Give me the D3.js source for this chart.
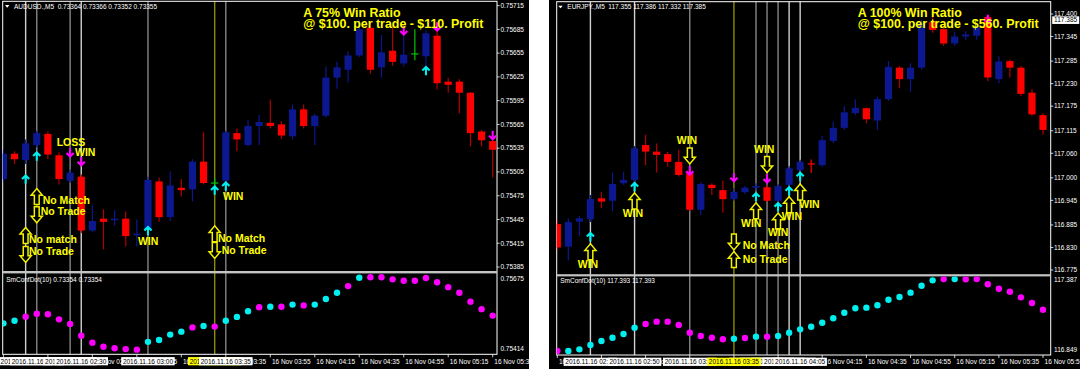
<!DOCTYPE html>
<html lang="en">
<head>
<meta charset="utf-8">
<title>Win ratio charts</title>
<script src="https://d3js.org/d3.v7.min.js"></script>
<style>
  body { margin: 0; background: #fff; }
  svg text { font-family: "Liberation Sans", Arial, sans-serif; }
  .small { font-size: 6.5px; fill: #fff; }
  .note { font-size: 10.5px; font-weight: bold; fill: #ffff00; }
  .title { font-size: 12.4px; font-weight: bold; fill: #ffff00; }
</style>
</head>
<body>
<svg id="chart" width="1080" height="369"></svg>
<script>

// ---------- AUDUSD (left) ----------
// [open, high, low, close]
var audCandles = [
  [0.75496,0.75533,0.75492,0.75528],[0.75528,0.75531,0.75515,0.75521],[0.75520,0.75546,0.75515,0.75541],
  [0.75539,0.75557,0.75536,0.75554],[0.75553,0.75556,0.75521,0.75527],[0.75526,0.75530,0.75489,0.75496],
  [0.75494,0.75508,0.75491,0.75504],[0.75499,0.75502,0.75428,0.75431],[0.75431,0.75463,0.75429,0.75443],
  [0.75446,0.75458,0.75407,0.75442],[0.75444,0.75457,0.75437,0.75446],[0.75446,0.75455,0.75411,0.75424],
  [0.75425,0.75445,0.75411,0.75427],[0.75432,0.75499,0.75430,0.75495],[0.75493,0.75498,0.75442,0.75448],
  [0.75448,0.75506,0.75443,0.75488],[0.75485,0.75496,0.75474,0.75482],[0.75483,0.75521,0.75468,0.75518],
  [0.75518,0.75555,0.75489,0.75491],[0.75491,0.75497,0.75485,0.75491],[0.75494,0.75557,0.75491,0.75555],
  [0.75554,0.75560,0.75531,0.75546],[0.75539,0.75571,0.75537,0.75563],[0.75563,0.75577,0.75539,0.75568],
  [0.75567,0.75596,0.75560,0.75563],[0.75565,0.75569,0.75547,0.75551],[0.75550,0.75590,0.75546,0.75584],
  [0.75584,0.75590,0.75560,0.75563],[0.75563,0.75578,0.75539,0.75576],[0.75576,0.75638,0.75574,0.75624],
  [0.75624,0.75644,0.75610,0.75637],[0.75634,0.75657,0.75618,0.75652],[0.75652,0.75697,0.75650,0.75685],
  [0.75687,0.75694,0.75629,0.75634],[0.75637,0.75678,0.75624,0.75656],[0.75658,0.75689,0.75639,0.75644],
  [0.75642,0.75678,0.75638,0.75653],[0.75654,0.75685,0.75646,0.75654],[0.75651,0.75684,0.75638,0.75680],
  [0.75677,0.75687,0.75609,0.75617],[0.75619,0.75624,0.75605,0.75615],[0.75619,0.75622,0.75579,0.75605],
  [0.75605,0.75606,0.75537,0.75554],[0.75556,0.75558,0.75537,0.75545],[0.75544,0.75546,0.75498,0.75533]
];
var audDots = [0.75507,0.75517,0.75532,0.75543,0.75541,0.75522,0.75505,0.75461,0.75435,0.75420,
  0.75414,0.75411,0.75409,0.75438,0.75445,0.75465,0.75476,0.75492,0.75497,0.75495,
  0.75517,0.75531,0.75552,0.75567,0.75569,0.75569,0.75577,0.75574,0.75577,0.75598,
  0.75621,0.75646,0.75677,0.75679,0.75679,0.75671,0.75666,0.75666,0.75676,0.75660,
  0.75642,0.75621,0.75588,0.75560,0.75536];
var audDotUp = [1,1,0,0,0,0,0,0,0,0,0,0,0,1,1,1,1,0,1,0,1,1,1,0,1,0,1,0,1,1,1,0,1,0,0,0,0,0,0,0,0,0,0,0,0];
var audPriceTicks = [0.75715,0.75685,0.75655,0.75625,0.75595,0.75565,0.75535,0.75505,0.75475,0.75445,0.75415,0.75385];
var audSubTicks = [0.75675,0.75414];
var audTimeTicks = [[0,"16 Nov 01:55"],[4,"16 Nov 02:15"],[8,"16 Nov 02:35"],[12,"16 Nov 02:55"],
  [16,"16 Nov 03:15"],[20,"16 Nov 03:35"],[24,"16 Nov 03:55"],[28,"16 Nov 04:15"],[32,"16 Nov 04:35"],
  [36,"16 Nov 04:55"],[40,"16 Nov 05:15"],[44,"16 Nov 05:35"]];
var audLines = [{bar:2,kind:"silver",label:"2016.11.16 02:05"},{bar:3,kind:"gray",label:"2016.11.16 02:10"},
  {bar:6,kind:"gray",label:"2016.11.16 02:25"},{bar:7,kind:"silver",label:"2016.11.16 02:30"},
  {bar:13,kind:"gray",label:"2016.11.16 03:00"},{bar:19,kind:"olive",label:"2016.11.16 03:30"},
  {bar:20,kind:"gray",label:"2016.11.16 03:35"}];
var audUpArrows = [[2,0.75501],[3,0.75530],[13,0.75436],[19,0.75487],[20,0.75492],[38,0.75638]];
var audDownArrows = [[6,0.75524],[7,0.75513],[36,0.75678],[39,0.75683],[44,0.75546]];
var audHollow = [[3,0.75484,"up"],[3,0.75461,"down"],[2,0.75435,"up"],[2,0.75411,"down"],[19,0.75437,"up"],[19,0.75416,"down"]];
var audNotes = [[4.79,0.75538,"LOSS"],[6.44,0.75525,"WIN"],[12.1,0.75413,"WIN"],[19.75,0.75469,"WIN"],
  [3.53,0.75464,"No Match"],[3.35,0.75451,"No Trade"],[2.3,0.75415,"No match"],[2.3,0.75400,"No Trade"],
  [19.3,0.75416,"No Match"],[19.63,0.75402,"No Trade"]];
var audTitle = ["A 75% Win Ratio","@ $100. per trade - $110. Profit"];
var audHeader = "AUDUSD.,M5  0.73364 0.73366 0.73352 0.73355";
var audSubHeader = "SmConfDot(10) 0.73354 0.73354";

// ---------- EURJPY (right) ----------
var eurCandles = [
  [116.887,116.897,116.824,116.830],[116.832,116.901,116.798,116.892],[116.893,116.907,116.858,116.901],
  [116.899,116.958,116.892,116.948],[116.950,116.966,116.926,116.942],[116.944,117.013,116.919,116.985],
  [116.987,117.015,116.983,116.995],[116.995,117.078,116.990,117.072],[117.080,117.105,117.031,117.064],
  [117.064,117.084,117.013,117.056],[117.058,117.063,117.027,117.039],[117.039,117.068,117.003,117.007],
  [117.011,117.021,116.919,116.922],[116.922,116.990,116.909,116.985],[116.983,116.987,116.958,116.975],
  [116.970,116.993,116.915,116.948],[116.948,116.975,116.944,116.966],[116.965,116.980,116.960,116.976],
  [116.976,116.987,116.970,116.980],[116.977,116.983,116.942,116.944],[116.944,116.985,116.922,116.980],
  [116.983,117.029,116.958,117.023],[117.019,117.044,117.011,117.039],[117.034,117.045,117.012,117.034],
  [117.031,117.102,117.027,117.092],[117.090,117.137,117.085,117.122],[117.122,117.175,117.117,117.160],
  [117.158,117.192,117.153,117.171],[117.170,117.172,117.133,117.143],[117.140,117.198,117.117,117.192],
  [117.192,117.285,117.188,117.271],[117.269,117.273,117.219,117.241],[117.241,117.280,117.210,117.269],
  [117.269,117.385,117.264,117.377],[117.380,117.395,117.354,117.361],[117.363,117.371,117.322,117.328],
  [117.328,117.357,117.322,117.345],[117.345,117.357,117.337,117.350],[117.347,117.375,117.337,117.369],
  [117.393,117.398,117.236,117.245],[117.241,117.297,117.231,117.284],[117.285,117.289,117.245,117.269],
  [117.269,117.273,117.200,117.205],[117.208,117.216,117.151,117.155],[117.153,117.158,117.105,117.117]
];
var eurDots = [116.841,116.841,116.854,116.887,116.918,116.943,116.971,117.020,117.048,117.066,
  117.066,117.040,116.981,116.956,116.943,116.931,116.935,116.941,116.951,116.951,
  116.956,116.981,117.007,117.027,117.058,117.092,117.134,117.168,117.173,117.191,
  117.234,117.255,117.288,117.341,117.382,117.392,117.392,117.390,117.392,117.352,
  117.318,117.295,117.252,117.209,117.157];
var eurDotUp = [0,1,1,1,1,1,1,1,0,0,0,0,0,0,0,0,1,0,1,0,1,1,1,1,1,1,1,1,1,1,1,1,1,1,1,0,1,0,0,0,0,0,0,0,0];
var eurPriceTicks = [117.400,117.345,117.285,117.230,117.175,117.115,117.060,117.000,116.945,116.885,116.830,116.775];
var eurSubTicks = [117.387,116.849];
var eurTimeTicks = [[0,"16 Nov 02:15"],[4,"16 Nov 02:35"],[8,"16 Nov 02:55"],[12,"16 Nov 03:15"],
  [16,"16 Nov 03:35"],[20,"16 Nov 03:55"],[24,"16 Nov 04:15"],[28,"16 Nov 04:35"],[32,"16 Nov 04:55"],
  [36,"16 Nov 05:15"],[40,"16 Nov 05:35"],[44,"16 Nov 05:55"]];
var eurLines = [{bar:3,kind:"silver",label:"2016.11.16 02:30"},{bar:7,kind:"silver",label:"2016.11.16 02:50"},
  {bar:12,kind:"gray",label:"2016.11.16 03:15"},{bar:18,kind:"gray",label:"2016.11.16 03:45"},
  {bar:19,kind:"gray",label:"2016.11.16 03:50"},{bar:20,kind:"gray",label:"2016.11.16 03:55"},
  {bar:21,kind:"silver",label:"2016.11.16 04:00"},{bar:22,kind:"silver",label:"2016.11.16 04:05"},
  {bar:16,kind:"olive",label:"2016.11.16 03:35"}];
var eurUpArrows = [[3,116.866],[7,116.988],[18,116.963],[20,116.939],[21,116.978],[22,117.013]];
var eurDownArrows = [[12,117.007],[16,116.991],[19,116.988],[39,117.377]];
var eurHollow = [[12,117.073,"down"],[7,116.963,"up"],[3,116.839,"up"],[16,116.863,"down"],[16,116.820,"up"],
  [18,116.939,"up"],[19,117.052,"down"],[20,116.914,"up"],[21,116.954,"up"],[22,116.985,"up"]];
var eurNotes = [[10.82,117.083,"WIN"],[5.92,116.904,"WIN"],[1.85,116.779,"WIN"],[16.79,116.826,"No Match"],
  [16.79,116.793,"No Trade"],[16.64,116.881,"WIN"],[17.82,117.060,"WIN"],[19.08,116.858,"WIN"],
  [20.33,116.897,"WIN"],[21.92,116.926,"WIN"]];
var eurTitle = ["A 100% Win Ratio","@ $100. per trade - $560. Profit"];
var eurHeader = "EURJPY.,M5  117.355 117.386 117.332 117.385";
var eurSubHeader = "SmConfDot(10) 117.393 117.393";
var eurLast = 117.385;

// ---------- drawing ----------
var H = 369;
var svg = d3.select("#chart");
var lineColor = {silver: "#d0d0d0", gray: "#858585", olive: "#8c8c00"};
var bull = "#0c1890", bear = "#ff0000", bearWick = "#b00000";

var panels = [
  {id:"aud", left:0, right:529, frameL:2.7, frameR:497, top:1.3, mainBottom:271, subTop:273.4, subBottom:354.3,
   barRange:[3.4,492.7], priceRange:[267,5.6], subRange:[348.3,278.3], timeY:363.7,
   candles:audCandles, dots:audDots, dotUp:audDotUp, priceTicks:audPriceTicks, subTicks:audSubTicks,
   timeTicks:audTimeTicks, vlines:audLines, ups:audUpArrows, downs:audDownArrows, hollow:audHollow,
   notes:audNotes, title:audTitle, titleX:303.3, titleY:[17.3,28.3], header:audHeader, headerX:14, headerY:8.7,
   subHeader:audSubHeader, subHeaderY:281.7, doji:"#00c800", last:null},
  {id:"eur", left:549, right:1080, frameL:556.7, frameR:1050.7, top:1.7, mainBottom:274.2, subTop:276.4, subBottom:355,
   barRange:[557.3,1043], priceRange:[270,14], subRange:[350,279.7], timeY:364.3,
   candles:eurCandles, dots:eurDots, dotUp:eurDotUp, priceTicks:eurPriceTicks, subTicks:eurSubTicks,
   timeTicks:eurTimeTicks, vlines:eurLines, ups:eurUpArrows, downs:eurDownArrows, hollow:eurHollow,
   notes:eurNotes, title:eurTitle, titleX:857.8, titleY:[16.7,28.3], header:eurHeader, headerX:567.3, headerY:9.3,
   subHeader:eurSubHeader, subHeaderY:283, doji:"#ff0000", last:eurLast}
];

panels.forEach(function(p) {
  var n = p.candles.length;
  var x = d3.scaleLinear().domain([0, n - 1]).range(p.barRange);
  var y = d3.scaleLinear().domain([p.priceTicks[p.priceTicks.length - 1], p.priceTicks[0]]).range(p.priceRange);
  var ys = d3.scaleLinear().domain([p.subTicks[1], p.subTicks[0]]).range(p.subRange);

  var defs = svg.append("defs");
  defs.append("clipPath").attr("id", p.id + "-all").append("rect")
      .attr("x", p.left).attr("y", 0).attr("width", p.right - p.left).attr("height", H);
  defs.append("clipPath").attr("id", p.id + "-main").append("rect")
      .attr("x", p.frameL).attr("y", p.top).attr("width", p.frameR - p.frameL).attr("height", p.mainBottom - p.top);
  defs.append("clipPath").attr("id", p.id + "-sub").append("rect")
      .attr("x", p.frameL).attr("y", p.subTop).attr("width", p.frameR - p.frameL).attr("height", p.subBottom - p.subTop);

  var g = svg.append("g").attr("clip-path", "url(#" + p.id + "-all)");
  g.append("rect").attr("x", p.left).attr("y", 0).attr("width", p.right - p.left).attr("height", H).attr("fill", "#000");

  // vertical lines (behind everything)
  g.append("g").selectAll("line").data(p.vlines).join("line")
      .attr("x1", d => x(d.bar)).attr("x2", d => x(d.bar))
      .attr("y1", p.top).attr("y2", p.subBottom)
      .attr("stroke", d => lineColor[d.kind]).attr("stroke-width", 1.4);

  // frame
  g.append("rect").attr("x", p.frameL).attr("y", p.top).attr("width", p.frameR - p.frameL)
      .attr("height", p.subBottom - p.top).attr("fill", "none").attr("stroke", "#fff").attr("stroke-width", 1);
  g.append("rect").attr("x", p.frameL).attr("y", p.mainBottom).attr("width", p.frameR - p.frameL)
      .attr("height", p.subTop - p.mainBottom).attr("fill", "#c4c4c4");

  // candles
  var cg = g.append("g").attr("clip-path", "url(#" + p.id + "-main)");
  var colorOf = function(d, wick) {
    if (d[3] > d[0]) return bull;
    if (d[3] < d[0]) return wick ? bearWick : bear;
    return p.doji;
  };
  cg.selectAll(".wick").data(p.candles).join("line").attr("class", "wick")
      .attr("x1", (d, i) => x(i)).attr("x2", (d, i) => x(i))
      .attr("y1", d => y(d[1])).attr("y2", d => y(d[2]))
      .attr("stroke", d => colorOf(d, true)).attr("stroke-width", 1.2);
  cg.selectAll(".body").data(p.candles).join("rect").attr("class", "body")
      .attr("x", (d, i) => x(i) - 3.6).attr("width", 7.2)
      .attr("y", d => y(Math.max(d[0], d[3])) - (d[0] === d[3] ? 0.6 : 0))
      .attr("height", d => Math.max(1.2, Math.abs(y(d[0]) - y(d[3]))))
      .attr("fill", d => colorOf(d, false));

  // indicator dots
  var dg = g.append("g").attr("clip-path", "url(#" + p.id + "-sub)");
  dg.selectAll("circle").data(p.dots).join("circle")
      .attr("cx", (d, i) => x(i)).attr("cy", d => ys(d)).attr("r", 3.2)
      .attr("fill", (d, i) => p.dotUp[i] ? "#00f0f0" : "#ff00ff");

  // signal arrows
  var ag = g.append("g").attr("clip-path", "url(#" + p.id + "-main)");
  ag.selectAll(".up").data(p.ups).join("path").attr("class", "up")
      .attr("d", function(d) { var cx = x(d[0]), ty = y(d[1]);
        return "M" + (cx - 3.6) + "," + (ty + 3.8) + "L" + cx + "," + (ty + 0.3) + "L" + (cx + 3.6) + "," + (ty + 3.8) +
               "M" + cx + "," + (ty + 0.6) + "V" + (ty + 8.6); })
      .attr("fill", "none").attr("stroke", "#00f0f0").attr("stroke-width", 2.1);
  ag.selectAll(".down").data(p.downs).join("path").attr("class", "down")
      .attr("d", function(d) { var cx = x(d[0]), by = y(d[1]);
        return "M" + (cx - 3.6) + "," + (by - 3.8) + "L" + cx + "," + (by - 0.3) + "L" + (cx + 3.6) + "," + (by - 3.8) +
               "M" + cx + "," + (by - 0.6) + "V" + (by - 8.6); })
      .attr("fill", "none").attr("stroke", "#ff00ff").attr("stroke-width", 2.1);
  ag.selectAll(".hollow").data(p.hollow).join("path").attr("class", "hollow")
      .attr("d", function(d) {
        var cx = x(d[0]), t = y(d[1]);
        var pts = d[2] === "up"
          ? [[0,0],[5.6,6.6],[2.4,6.6],[2.4,16],[-2.4,16],[-2.4,6.6],[-5.6,6.6]]
          : [[-2.4,0],[2.4,0],[2.4,9.4],[5.6,9.4],[0,16],[-5.6,9.4],[-2.4,9.4]];
        return "M" + pts.map(q => (cx + q[0]) + "," + (t + q[1])).join("L") + "Z";
      })
      .attr("fill", "#000").attr("stroke", "#f2f200").attr("stroke-width", 1.5).attr("stroke-linejoin", "miter");
  ag.selectAll(".note").data(p.notes).join("text").attr("class", "note")
      .attr("x", d => x(d[0])).attr("y", d => y(d[1])).text(d => d[2]);

  // titles
  g.selectAll(".title").data(p.title).join("text").attr("class", "title")
      .attr("x", p.titleX).attr("y", (d, i) => p.titleY[i]).text(d => d);

  // headers
  var hx = p.headerX - 9;
  g.append("path").attr("d", "M" + hx + "," + (p.headerY - 3.6) + "h4.4l-2.2,2.6z").attr("fill", "#fff");
  g.append("text").attr("class", "small").attr("x", p.headerX).attr("y", p.headerY).text(p.header)
      .attr("xml:space", "preserve").style("white-space", "pre");
  g.append("text").attr("class", "small").attr("x", p.frameL + 3.5).attr("y", p.subHeaderY).text(p.subHeader);

  // price axis
  var ax = g.append("g");
  ax.selectAll("line").data(p.priceTicks).join("line")
      .attr("x1", p.frameR).attr("x2", p.frameR + 2.6).attr("y1", d => y(d)).attr("y2", d => y(d))
      .attr("stroke", "#fff").attr("stroke-width", 0.8);
  ax.selectAll("text").data(p.priceTicks).join("text").attr("class", "small")
      .attr("x", p.frameR + 3.4).attr("y", d => y(d) + 2.3)
      .text(d => d3.format(p.id === "aud" ? ".5f" : ".3f")(d));
  var sx = g.append("g");
  sx.selectAll("text").data(p.subTicks).join("text").attr("class", "small")
      .attr("x", p.frameR + 3.4).attr("y", d => ys(d) + 2.3)
      .text(d => d3.format(p.id === "aud" ? ".5f" : ".3f")(d));
  if (p.last !== null) {
    var lg = g.append("g");
    lg.append("rect").attr("x", p.frameR + 1.5).attr("y", y(p.last) - 3.8)
        .attr("width", 27).attr("height", 7.6).attr("fill", "#fff");
    lg.append("text").attr("class", "small").style("fill", "#000")
        .attr("x", p.frameR + 3.4).attr("y", y(p.last) + 2.3).text(d3.format(".3f")(p.last));
  }

  // time axis
  var tx = g.append("g");
  tx.selectAll("line").data(p.timeTicks).join("line")
      .attr("x1", d => x(d[0])).attr("x2", d => x(d[0]))
      .attr("y1", p.subBottom).attr("y2", p.subBottom + 3)
      .attr("stroke", "#fff").attr("stroke-width", 0.8);
  tx.selectAll("text").data(p.timeTicks).join("text").attr("class", "small")
      .attr("x", d => x(d[0]) + 1.6).attr("y", p.timeY).text(d => d[1]);

  // vertical line time labels, drawn in order
  p.vlines.forEach(function(d) {
    var lb = g.append("g");
    var r = lb.append("rect").attr("fill", d.kind === "olive" ? "#ffff00" : "#fff");
    var t = lb.append("text").attr("class", "small").style("fill", "#000")
        .attr("x", x(d.bar)).attr("y", p.timeY).attr("text-anchor", "middle").text(d.label);
    var w = t.node().getComputedTextLength() + 3.4;
    r.attr("x", x(d.bar) - w / 2).attr("y", p.timeY - 6.6).attr("width", w).attr("height", 8.2);
  });
});

</script>
</body>
</html>
